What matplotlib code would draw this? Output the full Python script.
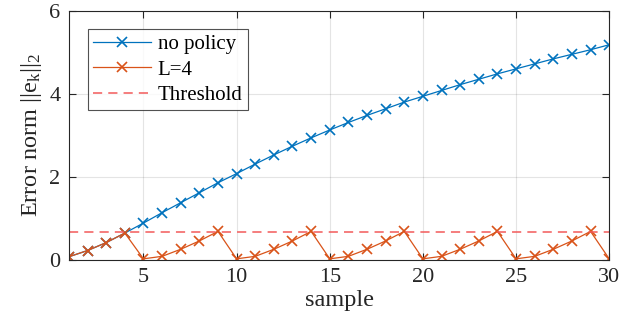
import numpy as np
import matplotlib
matplotlib.use('Agg')
import matplotlib.pyplot as plt

plt.rcParams['font.family'] = ['Liberation Serif', 'DejaVu Serif']
plt.rcParams['mathtext.fontset'] = 'custom'
plt.rcParams['mathtext.rm'] = 'Liberation Serif'
plt.rcParams['mathtext.it'] = 'Liberation Serif:italic'

# data
samples = list(range(1, 31))
no_policy = [0.08, 0.23, 0.42, 0.65, 0.89, 1.14, 1.38, 1.62, 1.86, 2.08,
             2.31, 2.53, 2.74, 2.94, 3.13, 3.31, 3.48, 3.64, 3.80, 3.94,
             4.08, 4.22, 4.35, 4.48, 4.60, 4.72, 4.84, 4.95, 5.06, 5.18]
l4 = [0.08, 0.23, 0.42, 0.65, 0.03, 0.09, 0.26, 0.46, 0.69, 0.03,
      0.09, 0.26, 0.46, 0.69, 0.03, 0.09, 0.26, 0.46, 0.69, 0.03,
      0.09, 0.26, 0.46, 0.69, 0.03, 0.09, 0.26, 0.46, 0.69, 0.03]
threshold = 0.68

blue = '#0072BD'
orange = '#D95319'

fig = plt.figure(figsize=(6.21, 3.33), dpi=100)
ax = fig.add_axes([0.111, 0.219, 0.870, 0.749])

ax.plot(samples, no_policy, '-x', color=blue, lw=0.9, ms=7, mew=1.2, label='no policy')
ax.plot(samples, l4, '-x', color=orange, lw=0.9, ms=7, mew=1.2, label='L=4')
ax.axhline(threshold, color='#F25A5A', lw=1.1, ls=(0, (6, 4)), label='Threshold')

ax.set_xlim(1, 30)
ax.set_ylim(0, 6)
ax.set_xticks([5, 10, 15, 20, 25, 30])
ax.set_yticks([0, 2, 4, 6])
ax.tick_params(direction='in', length=5, labelsize=16, top=True, right=True,
               colors='#262626', width=0.8, pad=6)
ax.grid(True, color='#262626', alpha=0.12, lw=0.8)
for s in ax.spines.values():
    s.set_color('#262626')
    s.set_linewidth(0.8)

ax.set_xlabel('sample', fontsize=17.5, color='#262626', labelpad=2)
ax.set_ylabel(r'Error norm ||e$_{\mathrm{k}}$||$_{\mathrm{2}}$', fontsize=17.5,
              color='#262626', labelpad=4)

leg = ax.legend(loc='upper left', bbox_to_anchor=(0.035, 0.925), fontsize=15,
                frameon=True, fancybox=False, edgecolor='#262626',
                handlelength=2.8, handletextpad=0.3, borderpad=0.25,
                labelspacing=0.28, borderaxespad=0)
leg.get_frame().set_linewidth(0.8)
for t in leg.get_texts():
    t.set_color('black')

fig.savefig('out.png', dpi=100)
